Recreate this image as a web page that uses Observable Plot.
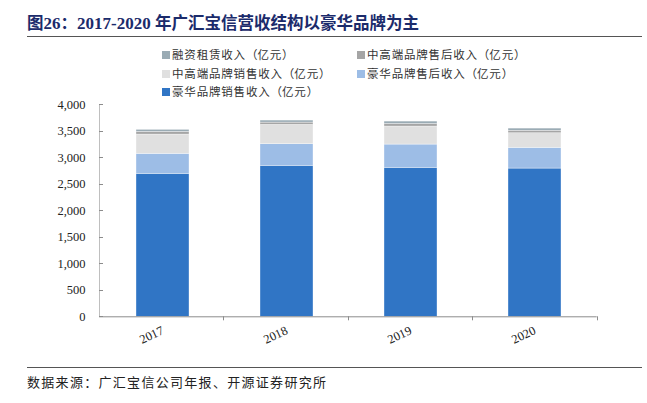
<!DOCTYPE html>
<html lang="zh-CN">
<head>
<meta charset="utf-8">
<script src="https://cdn.jsdelivr.net/npm/d3@7"></script>
<script src="https://cdn.jsdelivr.net/npm/@observablehq/plot@0.6"></script>
<style>
  html, body { margin: 0; padding: 0; background: #fff; }
  #wrap { position: relative; width: 647px; height: 403px; overflow: hidden; background: #fff; }
  #title { position: absolute; left: 27px; top: 11px; line-height: 22px; font-family: "Liberation Serif", "Noto Sans CJK SC", serif; font-weight: bold; font-size: 17px; color: #1b2b6b; white-space: nowrap; }
  #title .cjk { font-family: "Noto Sans CJK SC", sans-serif; font-size: 16.5px; letter-spacing: 0px; }
  .rule { position: absolute; left: 27px; width: 615px; height: 0; border-top: 1.5px solid #555; }
  #legend { position: absolute; left: 0; top: 0; font-family: "Noto Sans CJK SC", sans-serif; font-size: 11.5px; color: #333; }
  .li { position: absolute; white-space: nowrap; line-height: 14px; letter-spacing: 0.8px; }
  .po { display: inline-block; width: 1em; text-align: right; }
  .pc { display: inline-block; width: 1em; text-align: left; }
  .sw { display: inline-block; width: 8px; height: 8px; margin-right: 2px; vertical-align: 0px; }
  #chart { position: absolute; left: 0; top: 95px; }
  #source { position: absolute; left: 27px; top: 373px; line-height: 18px; font-family: "Noto Sans CJK SC", sans-serif; font-size: 13px; letter-spacing: 1.3px; color: #222; white-space: nowrap; }
</style>
</head>
<body>
<div id="wrap">
  <div id="title"><span class="cjk">图</span>26<span class="cjk">：</span>2017-2020 <span class="cjk">年广汇宝信营收结构以豪华品牌为主</span></div>
  <div class="rule" style="top:36px"></div>
  <div id="legend"></div>
  <div id="chart"></div>
  <div class="rule" style="top:367px"></div>
  <div id="source">数据来源：广汇宝信公司年报、开源证券研究所</div>
</div>
<script>
// ---- data ----
const years = ["2017", "2018", "2019", "2020"];
const luxurySales   = [2693, 2844, 2806, 2793]; // 豪华品牌销售收入
const luxuryAfter   = [377, 407, 439, 390];     // 豪华品牌售后收入
const midSales      = [363, 365, 339, 275];     // 中高端品牌销售收入
const midAfter      = [51, 43, 49, 48];         // 中高端品牌售后收入
const leasing       = [38, 38, 45, 40];         // 融资租赁收入
const seriesNames = [
  "豪华品牌销售收入（亿元）",
  "豪华品牌售后收入（亿元）",
  "中高端品牌销售收入（亿元）",
  "中高端品牌售后收入（亿元）",
  "融资租赁收入（亿元）"
];
const seriesColors = ["#3075c5", "#9dbde6", "#e0e0e0", "#a5a5a5", "#9aabb4"];
const yTicks = [0, 500, 1000, 1500, 2000, 2500, 3000, 3500, 4000];

const seriesValues = [luxurySales, luxuryAfter, midSales, midAfter, leasing];
const rows = [];
seriesNames.forEach((s, si) => years.forEach((y, yi) => rows.push({year: y, series: s, value: seriesValues[si][yi]})));

// ---- legend (HTML) ----
const legendLayout = [
  {name: seriesNames[4], left: 162, top: 47},
  {name: seriesNames[3], left: 357, top: 47},
  {name: seriesNames[2], left: 162, top: 66},
  {name: seriesNames[1], left: 357, top: 66},
  {name: seriesNames[0], left: 162, top: 84}
];
const legend = document.getElementById("legend");
legendLayout.forEach(d => {
  const el = document.createElement("div");
  el.className = "li";
  el.style.left = d.left + "px";
  el.style.top = d.top + "px";
  const sw = document.createElement("span");
  sw.className = "sw";
  sw.style.background = seriesColors[seriesNames.indexOf(d.name)];
  el.appendChild(sw);
  for (const ch of d.name) {
    if (ch === "（" || ch === "）") {
      const p = document.createElement("span");
      p.className = ch === "（" ? "po" : "pc";
      p.textContent = ch;
      el.appendChild(p);
    } else {
      el.appendChild(document.createTextNode(ch));
    }
  }
  legend.appendChild(el);
});

// ---- custom ticks (inward y ticks, x band-boundary ticks, left axis line) ----
function axisDecor(index, scales, values, dims) {
  const g = d3.create("svg:g");
  const x0 = dims.marginLeft;
  const yb = dims.height - dims.marginBottom;
  const yt = dims.marginTop;
  const yScale = (scales && scales.y) ? scales.y : (v => yt + (1 - v / 4000) * (yb - yt));
  g.append("line").attr("x1", x0 + 0.5).attr("x2", x0 + 0.5).attr("y1", yt).attr("y2", yb)
    .attr("stroke", "#bfbfbf").attr("stroke-width", 1);
  yTicks.forEach(v => {
    const y = Math.round(yScale(v)) + 0.5;
    g.append("line").attr("x1", x0).attr("x2", x0 + 4).attr("y1", y).attr("y2", y)
      .attr("stroke", "#8c8c8c").attr("stroke-width", 1);
  });
  const step = (dims.width - dims.marginLeft - dims.marginRight) / years.length;
  years.forEach((_, i) => {
    const x = Math.round(x0 + (i + 1) * step) + 0.5;
    g.append("line").attr("x1", x).attr("x2", x).attr("y1", yb).attr("y2", yb + 4)
      .attr("stroke", "#8c8c8c").attr("stroke-width", 1);
  });
  return g.node();
}

const chart = Plot.plot({
  width: 647,
  height: 255,
  marginTop: 9,
  marginBottom: 33.7,
  marginLeft: 99,
  marginRight: 50.3,
  style: {background: "transparent", overflow: "visible"},
  x: {domain: years, paddingInner: 0.575, paddingOuter: 0.2875, axis: null, label: null},
  y: {domain: [0, 4000], axis: null, label: null},
  color: {domain: seriesNames, range: seriesColors},
  marks: [
    Plot.barY(rows, {x: "year", y: "value", z: "series", fill: "series", stroke: "#ffffff", strokeWidth: 0.5, strokeOpacity: 0.7}),
    Plot.ruleY([0], {stroke: "#8c8c8c", strokeWidth: 1}),
    axisDecor,
    Plot.axisY(yTicks, {anchor: "left", label: null, tickSize: 0, tickPadding: 14, tickFormat: d3.format(","), fontFamily: "Liberation Serif, serif", fontSize: 12.5, fill: "#222"}),
    Plot.axisX({label: null, tickSize: 0, tickRotate: -25, tickPadding: 13, fontFamily: "Liberation Serif, serif", fontSize: 12.5, fill: "#222"})
  ]
});
document.getElementById("chart").appendChild(chart);
</script>
</body>
</html>
